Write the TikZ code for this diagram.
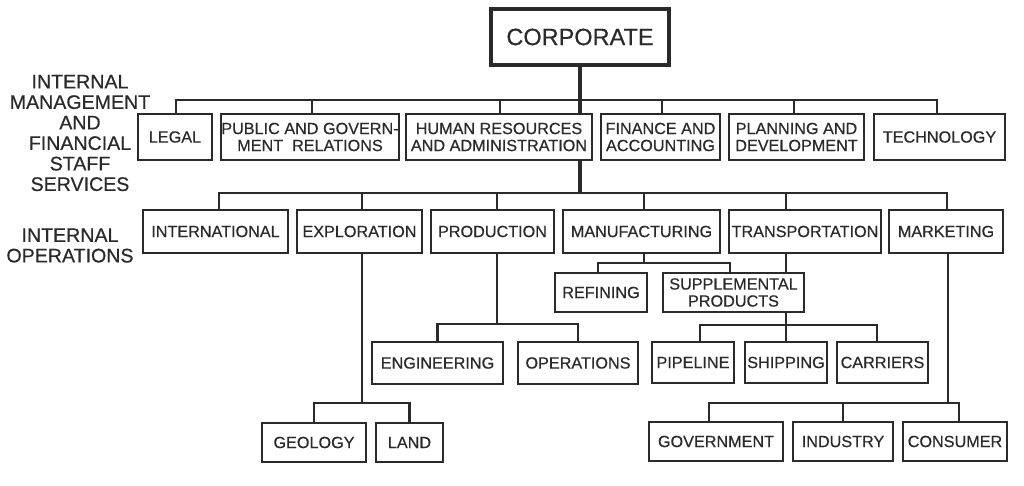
\documentclass[tikz,border=0pt]{standalone}
\usepackage{fontspec}
\setmainfont{Liberation Sans}[FakeBold=0.45]
\usetikzlibrary{backgrounds}
\definecolor{ink}{HTML}{2A2A2A}
\begin{document}
\begin{tikzpicture}[x=1pt,y=-1pt,
  box/.style={draw=ink, line width=1.8pt, fill=white, text=ink, inner sep=0pt,
    align=center, font=\fontsize{16.2}{17}\selectfont},
  wh/.style 2 args={minimum width=#1pt, minimum height=#2pt},
  topbox/.style={draw=ink, line width=3.4pt, fill=white, text=ink, inner sep=0pt,
    font=\fontsize{23.5}{26}\selectfont},
  conn/.style={draw=ink, line width=2.7pt},
  trunk/.style={draw=ink, line width=4.3pt},
  sidelabel/.style={text=ink, align=center, inner sep=0pt,
    font=\fontsize{19.6}{20.5}\selectfont}]
\useasboundingbox (0,0) rectangle (1024,485);

% side labels
\node[sidelabel] (lab1) at (80,133) {INTERNAL\\MANAGEMENT\\AND\\FINANCIAL\\STAFF\\SERVICES};
\node[sidelabel] (lab2) at (70,245.5) {INTERNAL\\OPERATIONS};

% top
\node[topbox, wh={178}{56}] (corp) at (580,37) {CORPORATE};

% staff row
\node[box, wh={74}{46}]  (legal) at (175,137) {LEGAL};
\node[box, wh={176}{46}] (public) at (310,137) {PUBLIC AND GOVERN-\\MENT\ \ RELATIONS};
\node[box, wh={186}{46}] (hr) at (499,137) {HUMAN RESOURCES\\AND ADMINISTRATION};
\node[box, wh={119}{46}] (fin) at (660.5,137) {FINANCE AND\\ACCOUNTING};
\node[box, wh={135}{46}] (plan) at (796.5,137) {PLANNING AND\\DEVELOPMENT};
\node[box, wh={131}{46}] (tech) at (939.5,137) {TECHNOLOGY};

% operations row
\node[box, wh={145}{43}] (intl) at (215.5,231.5) {INTERNATIONAL};
\node[box, wh={125}{43}] (expl) at (359.5,231.5) {EXPLORATION};
\node[box, wh={123}{43}] (prod) at (492.5,231.5) {PRODUCTION};
\node[box, wh={157}{43}] (manu) at (641.5,231.5) {MANUFACTURING};
\node[box, wh={152}{43}] (trans) at (805,231.5) {TRANSPORTATION};
\node[box, wh={114}{43}] (mkt) at (946,231.5) {MARKETING};

% manufacturing children
\node[box, wh={92}{39}]  (refin) at (601,292.5) {REFINING};
\node[box, wh={141}{39}] (supp) at (733.5,292.5) {SUPPLEMENTAL\\PRODUCTS};

% transportation children
\node[box, wh={82}{41}] (pipe) at (693,362.5) {PIPELINE};
\node[box, wh={82}{41}] (ship) at (786,362.5) {SHIPPING};
\node[box, wh={91}{41}] (carr) at (882.5,362.5) {CARRIERS};

% production children
\node[box, wh={131}{42}] (eng) at (437.5,363) {ENGINEERING};
\node[box, wh={120}{42}] (ops) at (578,363) {OPERATIONS};

% exploration children
\node[box, wh={104}{39}] (geo) at (314,442.5) {GEOLOGY};
\node[box, wh={67}{39}]  (land) at (409.5,442.5) {LAND};

% marketing children
\node[box, wh={134}{39}] (gov) at (716,441.5) {GOVERNMENT};
\node[box, wh={100}{39}] (ind) at (843,441.5) {INDUSTRY};
\node[box, wh={104}{39}] (cons) at (955,441.5) {CONSUMER};

% junction points
\coordinate (b1) at (580,100);
\coordinate (b2) at (580,193);
\coordinate (m1) at (644,263);
\coordinate (t1) at (786,325);
\coordinate (p1) at (497,324);
\coordinate (x1) at (362,403);
\coordinate (k1) at (948,403);

\begin{scope}[on background layer]
  \fill[white] (0,0) rectangle (1024,485);
  \draw[trunk] (corp.south) -- (b2);
  \foreach \n/\dx in {legal/1, public/2, hr/1, fin/1.5, plan/-2.5, tech/-2.5}
    \draw[conn] ([xshift=\dx pt]\n.north) |- (b1);
  \foreach \n/\dx in {intl/3.5, expl/2.5, prod/4.5, manu/2.5, trans/-19, mkt/1}
    \draw[conn] ([xshift=\dx pt]\n.north) |- (b2);
  % manufacturing
  \draw[conn] (manu.south -| m1) -- (m1);
  \draw[conn] ([xshift=-3pt]refin.north) |- (m1);
  \draw[conn] ([xshift=-3.5pt]supp.north) |- (m1);
  % transportation (passes behind supplemental products)
  \draw[conn] (trans.south -| t1) -- (t1);
  \draw[conn] ([xshift=7pt]pipe.north) |- (t1);
  \draw[conn] (ship.north) -- (t1);
  \draw[conn] ([xshift=-5.5pt]carr.north) |- (t1);
  % production
  \draw[conn] (prod.south -| p1) -- (p1);
  \draw[conn] (eng.north) |- (p1);
  \draw[conn] (ops.north) |- (p1);
  % exploration
  \draw[conn] (expl.south -| x1) -- (x1);
  \draw[conn] (geo.north) |- (x1);
  \draw[conn] (land.north) |- (x1);
  % marketing
  \draw[conn] (mkt.south -| k1) -- (k1);
  \draw[conn] ([xshift=-7pt]gov.north) |- (k1);
  \draw[conn] (ind.north) |- (k1);
  \draw[conn] ([xshift=4pt]cons.north) |- (k1);
\end{scope}
\end{tikzpicture}
\end{document}
